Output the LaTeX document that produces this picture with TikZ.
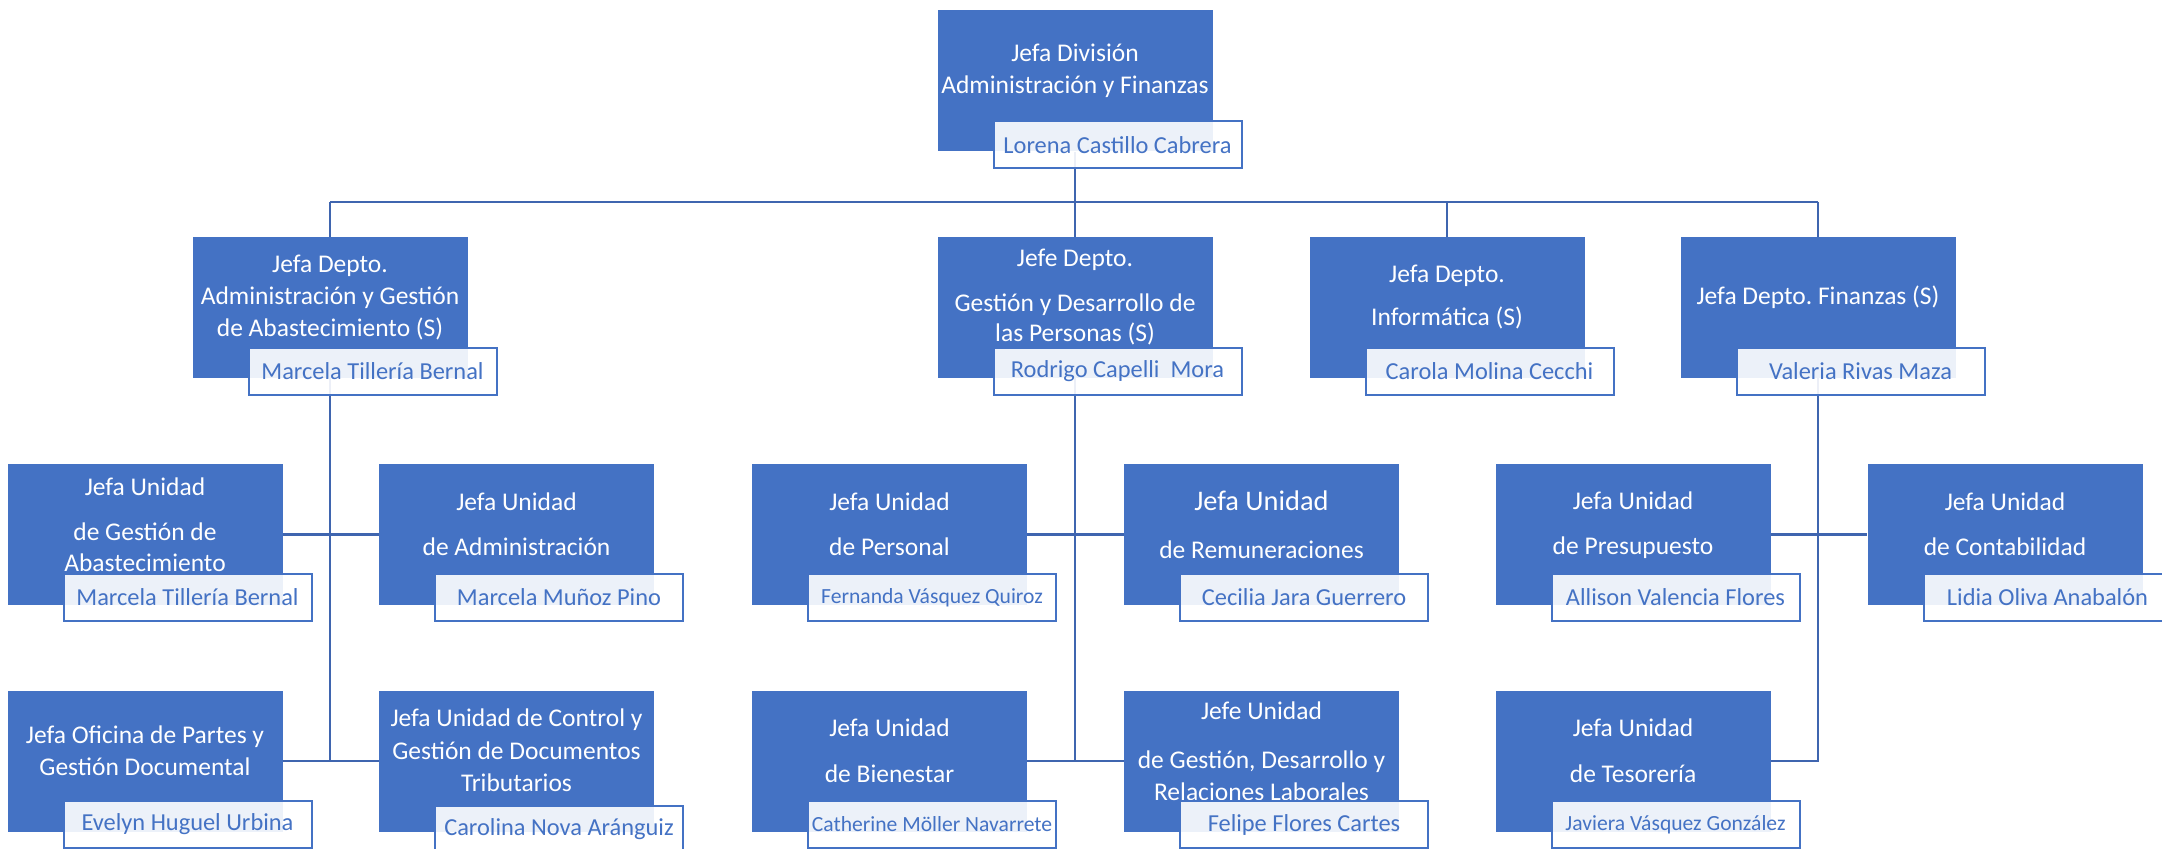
\documentclass[tikz,border=0pt]{standalone}
\usepackage{fontspec}
\setmainfont{Carlito}
\usepackage{xcolor}
\usetikzlibrary{backgrounds}
\definecolor{OrgBlue}{HTML}{4472C4}
\definecolor{LineBlue}{HTML}{3F65AF}
\frenchspacing

\begin{document}
\begin{tikzpicture}[
                x=0.5pt, y=-0.5pt,
                unit/.style={fill=OrgBlue, minimum width=137.5pt, minimum height=70.5pt, inner sep=0pt},
                unittext/.style={text=white, align=center, inner sep=0pt, font=\fontsize{12.75}{16}\selectfont},
                person/.style={draw=OrgBlue, line width=1pt, fill=white, fill opacity=0.9, text opacity=1, text=OrgBlue,
                               minimum width=124pt, minimum height=23.5pt, inner sep=0pt, font=\fontsize{12.2}{14}\selectfont},
                smallperson/.style={person, font=\fontsize{10.8}{13}\selectfont},
                link/.style={draw=LineBlue, line width=1.25pt}
            ]

            \useasboundingbox (0,0) rectangle (2162,849);

            % division
            \node[unit] (div) at (1075,81) {};
            \node[unittext] (div-t) at (1075,71) {Jefa División\\Administración y Finanzas};
            \node[person] (div-p) at (1117.5,145) {Lorena Castillo Cabrera};

            % departamentos
            \node[unit] (dabast) at (330,307.5) {};
            \node[unittext] (dabast-t) at (330,297.5) {Jefa Depto.\\Administración y Gestión\\de Abastecimiento (S)};
            \node[person] (dabast-p) at (372.5,371.5) {Marcela Tillería Bernal};

            \node[unit] (dpers) at (1075,307.5) {};
            \node[unittext] (dpers-t) at (1075,297.5) {Jefe Depto.\\[6.5pt]Gestión y Desarrollo de\\[-1pt]las Personas (S)};
            \node[person] (dpers-p) at (1117.5,371.5) {Rodrigo Capelli\ \ Mora};

            \node[unit] (dinfo) at (1447,307.5) {};
            \node[unittext] (dinfo-t) at (1447,297.5) {Jefa Depto.\\[5.5pt]Informática (S)};
            \node[person] (dinfo-p) at (1489.5,371.5) {Carola Molina Cecchi};

            \node[unit] (dfin) at (1818,307.5) {};
            \node[unittext] (dfin-t) at (1818,297.5) {Jefa Depto. Finanzas (S)};
            \node[person] (dfin-p) at (1860.5,371.5) {Valeria Rivas Maza};

            % unidades, primera fila
            \node[unit] (uabast) at (145,534.5) {};
            \node[unittext] (uabast-t) at (145,524.5) {Jefa Unidad\\[6.5pt]de Gestión de\\[-0.5pt]Abastecimiento};
            \node[person] (uabast-p) at (187.5,597.5) {Marcela Tillería Bernal};

            \node[unit] (uadmin) at (516.5,534.5) {};
            \node[unittext] (uadmin-t) at (516.5,524.5) {Jefa Unidad\\[6.5pt]de Administración};
            \node[person] (uadmin-p) at (559,597.5) {Marcela Muñoz Pino};

            \node[unit] (upers) at (889.5,534.5) {};
            \node[unittext] (upers-t) at (889.5,524.5) {Jefa Unidad\\[6.5pt]de Personal};
            \node[smallperson] (upers-p) at (932,597.5) {Fernanda Vásquez Quiroz};

            \node[unit] (uremun) at (1261.5,534.5) {};
            \node[unittext] (uremun-t) at (1261.5,525) {{\fontsize{14.2}{16}\selectfont Jefa Unidad}\\[8pt]de Remuneraciones};
            \node[person] (uremun-p) at (1304,597.5) {Cecilia Jara Guerrero};

            \node[unit] (upresup) at (1633,534.5) {};
            \node[unittext] (upresup-t) at (1633,525.5) {Jefa Unidad\\[6.5pt]de Presupuesto};
            \node[person] (upresup-p) at (1675.5,597.5) {Allison Valencia Flores};

            \node[unit] (ucontab) at (2005,534.5) {};
            \node[unittext] (ucontab-t) at (2005,524.5) {Jefa Unidad\\[6.5pt]de Contabilidad};
            \node[person] (ucontab-p) at (2047.5,597.5) {Lidia Oliva Anabalón};

            % unidades, segunda fila
            \node[unit] (uofpart) at (145,761) {};
            \node[unittext] (uofpart-t) at (145,751) {Jefa Oficina de Partes y\\Gestión Documental};
            \node[person] (uofpart-p) at (187.5,824.5) {Evelyn Huguel Urbina};

            \node[unit] (uctrl) at (516.5,761) {};
            \node[unittext] (uctrl-t) at (516.5,750.5) {Jefa Unidad de Control y\\[0.5pt]Gestión de Documentos\\Tributarios};
            \node[person] (uctrl-p) at (559,829) {Carolina Nova Aránguiz};

            \node[unit] (ubien) at (889.5,761) {};
            \node[unittext] (ubien-t) at (889.5,751) {Jefa Unidad\\[7pt]de Bienestar};
            \node[smallperson] (ubien-p) at (932,824.5) {Catherine Möller Navarrete};

            \node[unit] (ugdrl) at (1261.5,761) {};
            \node[unittext] (ugdrl-t) at (1261.5,751.5) {Jefe Unidad\\[8.5pt]de Gestión, Desarrollo y\\Relaciones Laborales};
            \node[person] (ugdrl-p) at (1304,824.5) {Felipe Flores Cartes};

            \node[unit] (utesor) at (1633,761) {};
            \node[unittext] (utesor-t) at (1633,751) {Jefa Unidad\\[7pt]de Tesorería};
            \node[smallperson] (utesor-p) at (1675.5,824.5) {Javiera Vásquez González};

            \begin{scope}[on background layer]
                \coordinate (bus-l) at (330,202);
                \coordinate (bus-r) at (1818,202);

                \draw[link] (div) -- (div |- bus-l);
                \draw[link] (bus-l) -- (bus-r);
                \draw[link] (bus-l) -- (dabast |- uofpart);
                \draw[link] (div |- bus-l) -- (dpers |- ubien);
                \draw[link] (dinfo |- bus-l) -- (dinfo);
                \draw[link, line join=miter] (bus-r) -- (dfin |- utesor) -- (utesor);

                \draw[link] (uabast) -- (uadmin);
                \draw[link] (uofpart) -- (uctrl);
                \draw[link] (upers) -- (uremun);
                \draw[link] (ubien) -- (ugdrl);
                \draw[link] (upresup) -- (ucontab);
            \end{scope}

        \end{tikzpicture}
\end{document}
